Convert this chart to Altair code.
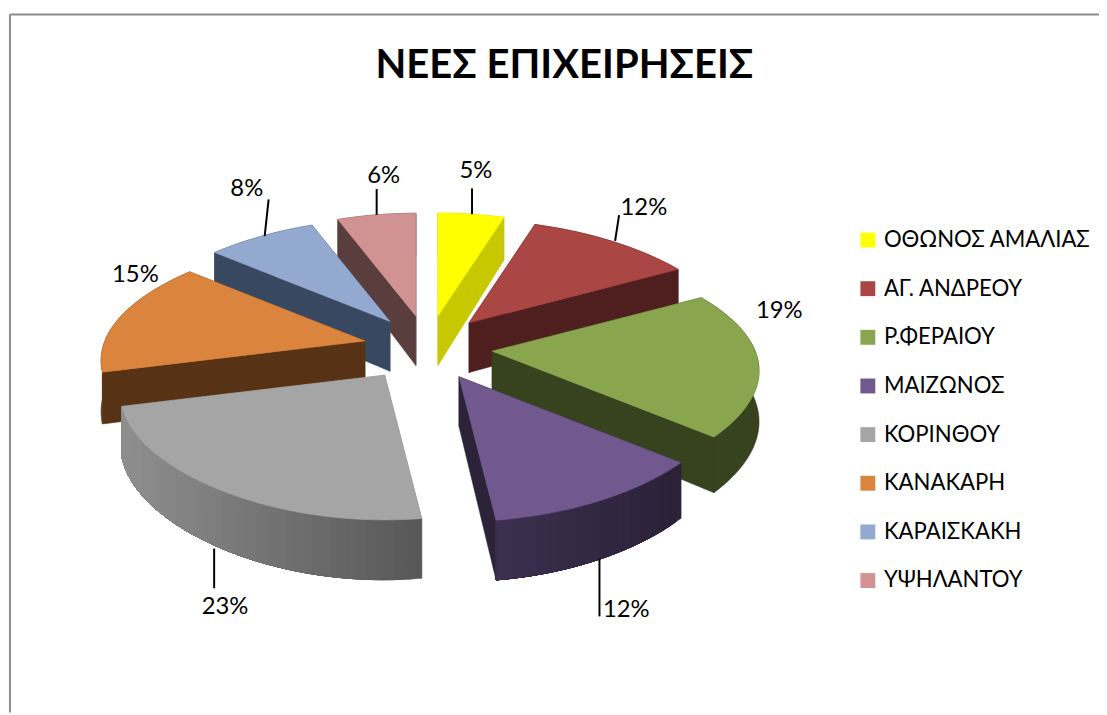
import math
import numpy as np
import altair as alt

TITLE = "ΝΕΕΣ ΕΠΙΧΕΙΡΗΣΕΙΣ"
NAMES = ["ΟΘΩΝΟΣ ΑΜΑΛΙΑΣ", "ΑΓ. ΑΝΔΡΕΟΥ", "Ρ.ΦΕΡΑΙΟΥ", "ΜΑΙΖΩΝΟΣ",
         "ΚΟΡΙΝΘΟΥ", "ΚΑΝΑΚΑΡΗ", "ΚΑΡΑΙΣΚΑΚΗ", "ΥΨΗΛΑΝΤΟΥ"]
PERCENT = [5, 12, 19, 12, 23, 15, 8, 6]
TOP = ["#FFFF00", "#AA4643", "#89A54E", "#71588F",
       "#A5A5A5", "#DB843D", "#93A9CF", "#D19392"]
SIDE = ["#C8C800", "#4F1F1F", "#37421F", "#2C2339",
        "#8F8F8F", "#573214", "#384860", "#5A3E3E"]
RIM_START = ["#C8C800", "#4F1F1F", "#37421F", "#3D3050",
             "#8F8F8F", "#573214", "#384860", "#5A3E3E"]
RIM_END = ["#C8C800", "#4F1F1F", "#37421F", "#2A2238",
           "#585858", "#573214", "#384860", "#5A3E3E"]

# page-space layout of the projected pie
W, H = 1099, 707
CX, CY = 431, 348
EXPLODE_X, EXPLODE_Y = 65, 33
RX_RIGHT, RX_LEFT, RY, PERSP, DEPTH = 265, 262, 121, 0.17, 50
TIP_NUDGE_X = [0, 0, 0, 0, -7, 0, 0, 0]
FONT = "Lato"

# label offset from the rim midpoint; leader (start dx, end dx, length)
LABEL_OFF = [(5, -43), (33, -33), (21, -52), (26, 52), (3, 59), (14, -41), (-15, -47), (7, -39)]
LEADER = [(1, 1, -26), (4, 8, -26), None, (-1, -1, 58), (-8, -8, 40), None, (3, 7, -37), (0, 0, -26)]


def rgb(h):
    return np.array([int(h[i:i + 2], 16) for i in (1, 3, 5)], float)


def mix(a, b, t):
    c = rgb(a) * (1 - t) + rgb(b) * t
    return "#%02x%02x%02x" % tuple(int(round(v)) for v in c)


def proj(tip, a):
    u, v = math.sin(a), math.cos(a)
    s = 1 / (1 + PERSP * v)
    sx = 1 / (1 + (0.18 + 0.07 * v) * v)
    rx = RX_RIGHT if u > 0 else RX_LEFT
    return tip[0] + rx * u * sx - 8, tip[1] - RY * v * s - 8, s


def poly(points, fill, name=""):
    ring = [[round(p[0], 2), round(p[1], 2)] for p in points]
    ring.append(ring[0])
    return {"type": "Feature", "geometry": {"type": "Polygon", "coordinates": [ring]},
            "properties": {"fill": fill, "name": name}}


def lower(p):
    return (p[0], p[1] + DEPTH * p[2])


tops, slices, labels, rules = [], [], [], []
cum = 0
for i, pct in enumerate(PERCENT):
    a0 = cum / 100 * 2 * math.pi
    a1 = (cum + pct) / 100 * 2 * math.pi
    cum += pct
    mid = (a0 + a1) / 2
    tip = (CX + EXPLODE_X * math.sin(mid) + TIP_NUDGE_X[i], CY - EXPLODE_Y * math.cos(mid))
    tip_p = (tip[0] - 8, tip[1] - 8)
    n = max(6, pct * 2)
    arc = [proj(tip, a0 + (a1 - a0) * k / n) for k in range(n + 1)]
    # the arc runs clockwise: on the front half it goes right to left, so bands are painted from the right
    feats = []
    for end in (arc[0], arc[-1]):
        feats.append(poly([tip_p, end[:2], lower(end), (tip_p[0], tip_p[1] + DEPTH)], SIDE[i]))
    xs_arc = [p[0] for p in arc]
    lo, hi = min(xs_arc), max(xs_arc)
    # each rim band runs to the end of the arc, so the next band paints over it without a seam
    bands = n if RIM_START[i] != RIM_END[i] else 1
    for k in range(bands):
        rest = arc[k:]
        t = (rest[0][0] - lo) / max(hi - lo, 1)
        feats.append(poly([p[:2] for p in rest] + [lower(p) for p in reversed(rest)],
                          mix(RIM_START[i], RIM_END[i], t)))
    top = poly([tip_p] + [p[:2] for p in arc], TOP[i], NAMES[i])
    tops.append(top)
    feats.append(top)
    slices.append((math.cos(mid), feats))

    rim = proj(tip, mid)
    rx, ry = rim[0], rim[1] + (DEPTH * rim[2] if math.cos(mid) < -0.5 else 0)
    labels.append({"x": rx + LABEL_OFF[i][0], "y": ry + LABEL_OFF[i][1], "t": f"{pct}%"})
    if LEADER[i]:
        d0, d1, ln = LEADER[i]
        rules.append({"x": rx + d0, "x2": rx + d1, "y": ry, "y2": ry + ln})

painted = []
for _, feats in sorted(slices, key=lambda s: -s[0]):
    painted.extend(feats)

PROJ = dict(type="identity", scale=1, translate=[0, 0])
xs = alt.Scale(domain=[0, W])
ys = alt.Scale(domain=[H, 0])

legend_layer = alt.Chart(alt.Data(values=tops)).mark_geoshape().encode(
    color=alt.Color("properties.name:N", scale=alt.Scale(domain=NAMES, range=TOP),
                    legend=alt.Legend(title=None, orient="none", legendX=855, legendY=220,
                                      symbolType="square", symbolSize=225, symbolStrokeWidth=0,
                                      labelFont=FONT, labelFontSize=22.3, labelColor="#000000",
                                      labelOffset=5, rowPadding=26, labelLimit=260))
).project(**PROJ)

shapes = alt.Chart(alt.Data(values=painted)).mark_geoshape(strokeWidth=0.6).encode(
    fill=alt.Fill("properties.fill:N", scale=None, legend=None),
    stroke=alt.Stroke("properties.fill:N", scale=None, legend=None),
).project(**PROJ)

leaders = alt.Chart(alt.Data(values=rules)).mark_rule(color="#000000", strokeWidth=2).encode(
    x=alt.X("x:Q", scale=xs, axis=None), x2="x2:Q",
    y=alt.Y("y:Q", scale=ys, axis=None), y2="y2:Q")

text = alt.Chart(alt.Data(values=labels)).mark_text(font=FONT, fontSize=24, color="#000000").encode(
    x=alt.X("x:Q", scale=xs, axis=None),
    y=alt.Y("y:Q", scale=ys, axis=None),
    text="t:N")

frame_top = alt.Chart(alt.Data(values=[{"a": 0}])).mark_rule(color="#8c8c8c", strokeWidth=2).encode(
    x=alt.value(2), x2=alt.value(W), y=alt.value(4))
frame_left = alt.Chart(alt.Data(values=[{"a": 0}])).mark_rule(color="#8c8c8c", strokeWidth=2).encode(
    x=alt.value(2), y=alt.value(4), y2=alt.value(H))

chart = alt.layer(frame_top, frame_left, legend_layer, shapes, leaders, text).resolve_scale(
    color="independent", fill="independent", stroke="independent"
).properties(
    width=W, height=H, padding=0,
    autosize=alt.AutoSizeParams(type="none"),
    title=alt.TitleParams(TITLE, font=FONT, fontSize=40.3, fontWeight="bold", color="#000000",
                          anchor="middle", dx=11, dy=80),
).configure_view(stroke=None)

chart.save("out.html", embed_options={"renderer": "svg", "actions": False})
